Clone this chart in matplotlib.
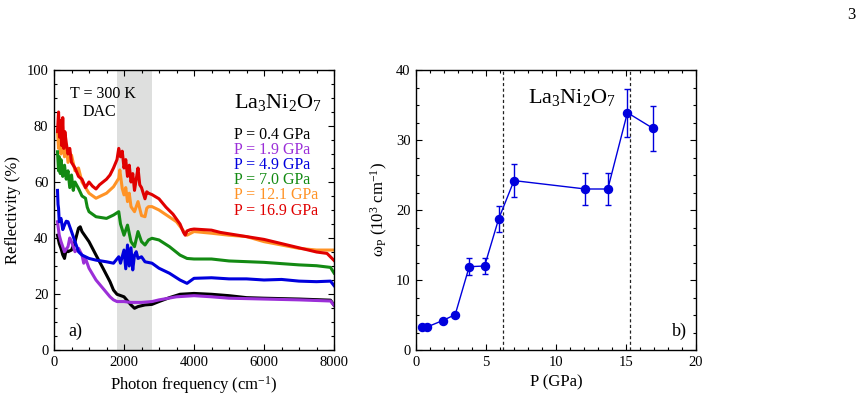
# encoding utf-8

from matplotlib import pyplot as plt
from matplotlib.ticker import MultipleLocator

plt.rcParams['font.family'] = ['Liberation Serif', 'DejaVu Serif']
plt.rcParams['mathtext.fontset'] = 'custom'
plt.rcParams['mathtext.rm'] = 'Liberation Serif'
plt.rcParams['mathtext.it'] = 'Liberation Serif:italic'

# ---- panel a) reflectivity spectra ----
pressures = ['0.4', '1.9', '4.9', '7.0', '12.1', '16.9']
colors = ['#000000', '#9b2fd8', '#0000dd', '#138a13', '#ff9326', '#e00000']

x_black = [100, 150, 200, 250, 300, 350, 400, 500, 600, 700, 750, 800, 900, 1000, 1200, 1400, 1600,
           1700, 1800, 2000, 2200, 2300, 2400, 2600, 2800, 3000, 3300, 3600, 4000, 4500, 5000, 5500,
           6000, 7000, 7900, 8000]
r_black = [41, 38, 36.3, 34, 32.7, 36, 35.1, 35.7, 38.7, 43.5, 44, 42.3, 40.5, 38.7, 33.9, 29.2, 24.4,
           21.4, 19.9, 19, 16.1, 14.9, 15.5, 16.1, 16.3, 17.3, 18.7, 19.9, 20.2, 19.9, 19.4, 18.7,
           18.5, 18.2, 17.8, 16]

x_violet = [100, 150, 200, 300, 400, 450, 500, 600, 700, 800, 850, 900, 1000, 1200, 1400, 1600, 1700,
            1800, 2000, 2200, 2500, 2800, 3000, 3500, 4000, 4500, 5000, 6000, 7000, 7900, 8000]
r_violet = [45.8, 41, 38.7, 35.1, 36.9, 40, 38.7, 35.1, 36.3, 33.9, 31, 32.7, 29.2, 25, 22, 19, 17.9,
            17.3, 17.3, 17, 17, 17.3, 17.9, 19, 19.4, 19, 18.5, 18.2, 17.9, 17.5, 16]

x_blue = [100, 115, 130, 150, 200, 250, 300, 350, 400, 500, 600, 700, 800, 1000, 1200, 1500, 1700,
          1850, 1900, 2000, 2050, 2100, 2150, 2200, 2250, 2300, 2350, 2400, 2500, 2600, 2800, 3000,
          3300, 3600, 3800, 4000, 4500, 5000, 5500, 6000, 6500, 7000, 7500, 7900, 8000]
r_blue = [57, 52, 50.6, 45.8, 47, 43, 44.6, 46, 45.8, 42.3, 38.7, 35.1, 33.9, 32.7, 32.1, 31.5, 31,
          33.3, 31, 35.7, 29, 37.5, 30, 36.5, 28.6, 33.9, 35.1, 32.7, 33.3, 31.5, 31, 29.2,
          27.4, 25, 23.8, 25.6, 25.8, 25.4, 25.4, 25, 25.2, 24.6, 24.4, 24.6, 23]

x_green = [100, 130, 150, 180, 200, 250, 300, 350, 400, 450, 500, 550, 600, 700, 800, 900, 950, 1000,
           1200, 1500, 1700, 1850, 1900, 2000, 2100, 2200, 2300, 2400, 2500, 2600, 2700, 2800, 3000,
           3300, 3600, 3800, 4000, 4500, 5000, 6000, 7000, 7500, 7900, 8000]
r_green = [70.8, 64, 69, 63, 68, 62, 66, 61, 64, 58, 62.5, 57, 60, 57.7, 55, 54.2, 51, 49.4,
           47.6, 47, 48.2, 49.4, 45, 41, 44.6, 38.7, 36.9, 42.3, 38.7, 37.5, 39.3, 39.9, 39.3,
           36.9, 33.9, 32.7, 32.5, 32.5, 31.8, 31.3, 30.4, 30.1, 29.5, 27.5]

x_orange = [100, 130, 160, 200, 250, 300, 350, 400, 500, 600, 700, 800, 900, 1000, 1200, 1500, 1700,
            1850, 1880, 1950, 2000, 2050, 2100, 2150, 2200, 2300, 2400, 2500, 2600, 2650, 2700, 2800,
            3000, 3500, 3750, 3800, 4000, 4500, 5000, 5500, 6000, 6500, 7000, 7500, 8000]
r_orange = [78.6, 72, 76, 70, 75, 69, 73, 67, 69.6, 64, 65, 60, 58, 56, 54.2, 56, 58.3,
            61.3, 64.3, 57.7, 55.4, 58, 53, 56, 51.2, 49.4, 53, 48, 47.6, 50.6, 51.2, 51.2,
            50, 45.8, 41.7, 41, 42.3, 41.7, 41, 40.5, 38.7, 37.5, 36.3, 35.7, 35.7]

x_red = [100, 130, 160, 190, 220, 250, 280, 310, 350, 400, 450, 500, 600, 700, 800, 900, 1000, 1100,
         1200, 1300, 1400, 1500, 1600, 1700, 1800, 1850, 1900, 1950, 2000, 2050, 2100, 2150, 2200,
         2250, 2300, 2350, 2400, 2450, 2500, 2550, 2600, 2650, 2700, 2800, 3000, 3200, 3400, 3600,
         3700, 3750, 3800, 3900, 4000, 4250, 4500, 4750, 5000, 5500, 6000, 6500, 7000, 7500, 7800, 8000]
r_red = [78, 85, 76, 82, 73, 83, 72, 78, 74, 70, 72, 67, 65, 62, 61, 58, 60, 58.5,
         57.5, 59, 60, 61, 62.5, 65, 68, 72, 69, 71, 65, 68, 62, 66, 60,
         63, 57, 61, 65, 59, 58, 56, 54, 56.5, 56, 55.5, 54, 51, 48.5, 45,
         42, 41, 42.5, 43, 43.2, 43, 42.8, 42, 41.5, 40.5, 39.5, 38, 36.5, 35, 34.5, 32]

spectra_x = [x_black, x_violet, x_blue, x_green, x_orange, x_red]
spectra_r = [r_black, r_violet, r_blue, r_green, r_orange, r_red]

# ---- panel b) plasma frequency vs pressure ----
p_gpa = [0.4, 0.8, 1.9, 2.8, 3.8, 4.9, 5.9, 7.0, 12.1, 13.7, 15.1, 16.9]
omega_p = [3.3, 3.3, 4.2, 5.05, 11.9, 12.0, 18.7, 24.2, 23.0, 23.0, 33.9, 31.7]
omega_err = [0, 0, 0, 0, 1.2, 1.2, 1.9, 2.4, 2.35, 2.35, 3.4, 3.2]
p_lines = [6.2, 15.3]


def style_axes(ax):
    ax.tick_params(which='both', direction='in', top=True, right=True,
                   labelsize=10.5, width=0.8, pad=4)
    ax.tick_params(which='major', length=4)
    ax.tick_params(which='minor', length=2.2)
    for s in ax.spines.values():
        s.set_linewidth(1.0)


fig = plt.figure(figsize=(8.68, 4.03), dpi=100)

# left panel
ax1 = fig.add_axes([54 / 868, 53 / 403, 280 / 868, 280 / 403])
ax1.axvspan(1790, 2790, color='#dedfde', lw=0, zorder=0)
for xs, rs, c in zip(spectra_x, spectra_r, colors):
    ax1.plot(xs, rs, color=c, lw=2.2, zorder=2)
ax1.set_xlim(0, 8000)
ax1.set_ylim(0, 100)
ax1.xaxis.set_major_locator(MultipleLocator(2000))
ax1.xaxis.set_minor_locator(MultipleLocator(500))
ax1.yaxis.set_major_locator(MultipleLocator(20))
ax1.yaxis.set_minor_locator(MultipleLocator(5))
style_axes(ax1)
ax1.set_xlabel('Photon frequency (cm$^{-1}$)', fontsize=12)
ax1.set_ylabel('Reflectivity (%)', fontsize=12)

ax1.text(1400, 91.5, 'T = 300 K', ha='center', va='center', fontsize=11.5)
ax1.text(1300, 85, 'DAC', ha='center', va='center', fontsize=11.5)
ax1.text(5150, 88.5, 'La$_3$Ni$_2$O$_7$', ha='left', va='center', fontsize=16)
for i, (p, c) in enumerate(zip(pressures, colors)):
    ax1.text(5150, 76.8 - i * 5.4, 'P = %s GPa' % p, color=c, ha='left', va='center', fontsize=11.5)
ax1.text(400, 6.5, 'a)', ha='left', va='center', fontsize=13)

# right panel
ax2 = fig.add_axes([416 / 868, 53 / 403, 280 / 868, 280 / 403])
ax2.errorbar(p_gpa, omega_p, yerr=omega_err, color='#0000dd', marker='o', ms=5.8,
             lw=1.0, elinewidth=1.0, capsize=2, capthick=1.0, zorder=3)
for p in p_lines:
    ax2.axvline(p, color='#222222', ls=(0, (2.5, 2)), lw=0.9, zorder=1)
ax2.set_xlim(0, 20)
ax2.set_ylim(0, 40)
ax2.xaxis.set_major_locator(MultipleLocator(5))
ax2.xaxis.set_minor_locator(MultipleLocator(1))
ax2.yaxis.set_major_locator(MultipleLocator(10))
ax2.yaxis.set_minor_locator(MultipleLocator(2.5))
style_axes(ax2)
ax2.set_xlabel('P (GPa)', fontsize=12)
ax2.set_ylabel('ω$_\\mathrm{P}$ (10$^3$ cm$^{-1}$)', fontsize=12)
ax2.text(8.0, 36, 'La$_3$Ni$_2$O$_7$', ha='left', va='center', fontsize=16)
ax2.text(18.3, 2.6, 'b)', ha='left', va='center', fontsize=13)

fig.text(0.985, 0.962, '3', ha='right', va='center', fontsize=12)

fig.savefig('out.png', dpi=100)
